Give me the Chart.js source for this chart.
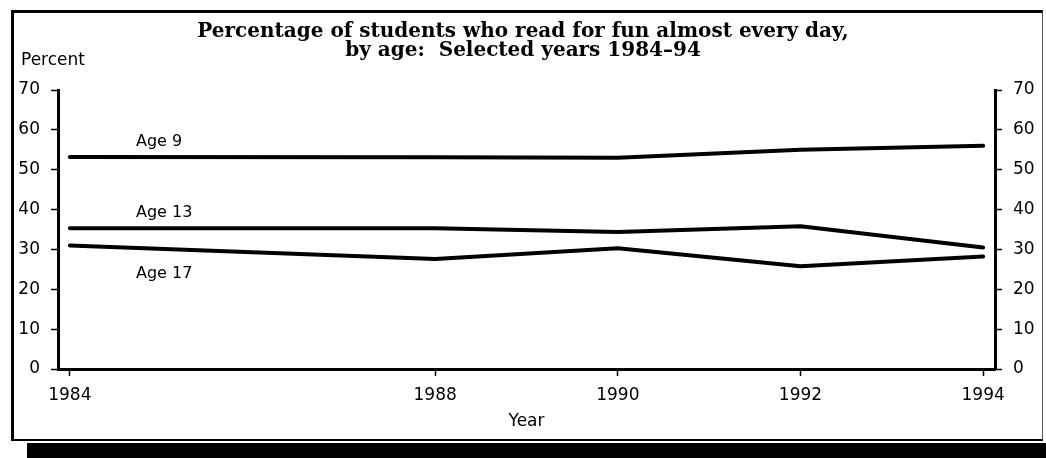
<!DOCTYPE html>
<html>
<head>
<meta charset="utf-8">
<script src="https://cdn.jsdelivr.net/npm/chart.js@4"></script>
<style>
  body { margin: 0; background: #fff; }
  #wrap { position: relative; width: 1046px; height: 458px; overflow: hidden; background: #fff; }
  #frame {
    position: absolute; left: 11px; top: 10px; width: 1028px; height: 426px;
    border-top: 3px solid #000; border-left: 3px solid #000;
    border-bottom: 2px solid #000; border-right: 1px solid #555;
  }
  #shadow { position: absolute; left: 27px; top: 443px; width: 1019px; height: 15px; background: #000; }
  #chart { position: absolute; left: 0; top: 0; }
</style>
</head>
<body>
<div id="wrap">
  <div id="frame"></div>
  <div id="shadow"></div>
  <canvas id="chart" width="1046" height="458"></canvas>
</div>
<script>
document.addEventListener("DOMContentLoaded", () => {
  // data
  const years = [1984, 1988, 1990, 1992, 1994];
  const age9 = [53.2, 53.1, 53.0, 55.0, 56.0];
  const age13 = [35.3, 35.3, 34.4, 35.8, 30.5];
  const age17 = [31.0, 27.6, 30.3, 25.8, 28.2];
  const seriesNames = ["Age 9", "Age 13", "Age 17"];
  const titleLines = [
    "Percentage of students who read for fun almost every day,",
    "by age:  Selected years 1984\u201394",
  ];

  const sans = "'DejaVu Sans', sans-serif";

  const toPoints = (vals) => vals.map((v, i) => ({ x: years[i], y: v }));

  // name labels next to the lines + "Percent" caption
  const seriesLabels = {
    id: "seriesLabels",
    afterDatasetsDraw(chart) {
      const { ctx, chartArea } = chart;
      const yScale = chart.scales.y;
      const offsets = [-15, -15, 28];
      ctx.save();
      ctx.fillStyle = "#000";
      ctx.font = "16px " + sans;
      ctx.textBaseline = "middle";
      ctx.textAlign = "left";
      chart.data.datasets.forEach((ds, i) => {
        const y = yScale.getPixelForValue(ds.data[0].y) + offsets[i];
        ctx.fillText(seriesNames[i], chartArea.left + 78, y);
      });
      ctx.font = "17px " + sans;
      ctx.fillText("Percent", 21, 61);
      ctx.restore();
    },
  };

  const lineStyle = {
    borderColor: "#000",
    backgroundColor: "#000",
    borderWidth: 4,
    pointRadius: 0,
    tension: 0,
    borderCapStyle: "round",
    borderJoinStyle: "round",
  };

  const yTicks = {
    stepSize: 5,
    color: "#000",
    font: { size: 17, family: sans },
    callback: (v) => (v % 10 === 0 ? v : ""),
  };

  new Chart(document.getElementById("chart"), {
    type: "line",
    data: {
      datasets: [
        { label: seriesNames[0], data: toPoints(age9), ...lineStyle },
        { label: seriesNames[1], data: toPoints(age13), ...lineStyle },
        { label: seriesNames[2], data: toPoints(age17), ...lineStyle },
      ],
    },
    options: {
      responsive: false,
      animation: false,
      layout: { padding: { top: 22, left: 0, right: 0, bottom: 0 } },
      plugins: {
        legend: { display: false },
        tooltip: { enabled: false },
        title: {
          display: true,
          text: titleLines,
          color: "#000",
          font: { family: "'DejaVu Serif', serif", weight: "bold", size: 20, lineHeight: "19px" },
          padding: { top: 0, bottom: 30 },
        },
      },
      scales: {
        x: {
          type: "linear",
          min: 1983.87,
          max: 1994.13,
          afterBuildTicks: (axis) => {
            axis.ticks = years.map((v) => ({ value: v }));
          },
          afterFit: (axis) => {
            axis.height = 89;
          },
          ticks: {
            color: "#000",
            font: { size: 17, family: sans },
            padding: 9,
            maxRotation: 0,
            autoSkip: false,
            callback: (v) => String(v),
          },
          grid: { drawOnChartArea: false, tickLength: 7, color: "#000", tickWidth: 1.5 },
          border: { color: "#000", width: 3 },
          title: {
            display: true,
            text: "Year",
            color: "#000",
            font: { size: 17, family: sans },
            padding: { top: 0, bottom: 26 },
          },
        },
        y: {
          position: "left",
          min: 0,
          max: 70,
          afterFit: (axis) => {
            axis.width = 58;
          },
          ticks: { ...yTicks, padding: 11 },
          grid: {
            drawOnChartArea: false,
            tickLength: 7,
            color: "#000",
            tickWidth: (c) => (c.tick && c.tick.value % 10 === 0 ? 1.5 : 0.8),
          },
          border: { color: "#000", width: 3 },
        },
        y2: {
          position: "right",
          min: 0,
          max: 70,
          afterFit: (axis) => {
            axis.width = 51;
          },
          ticks: { ...yTicks, padding: 11 },
          grid: {
            drawOnChartArea: false,
            tickLength: 7,
            color: "#000",
            tickWidth: (c) => (c.tick && c.tick.value % 10 === 0 ? 1.5 : 0.8),
          },
          border: { color: "#000", width: 3 },
        },
      },
    },
    plugins: [seriesLabels],
  });
});
</script>
</body>
</html>
